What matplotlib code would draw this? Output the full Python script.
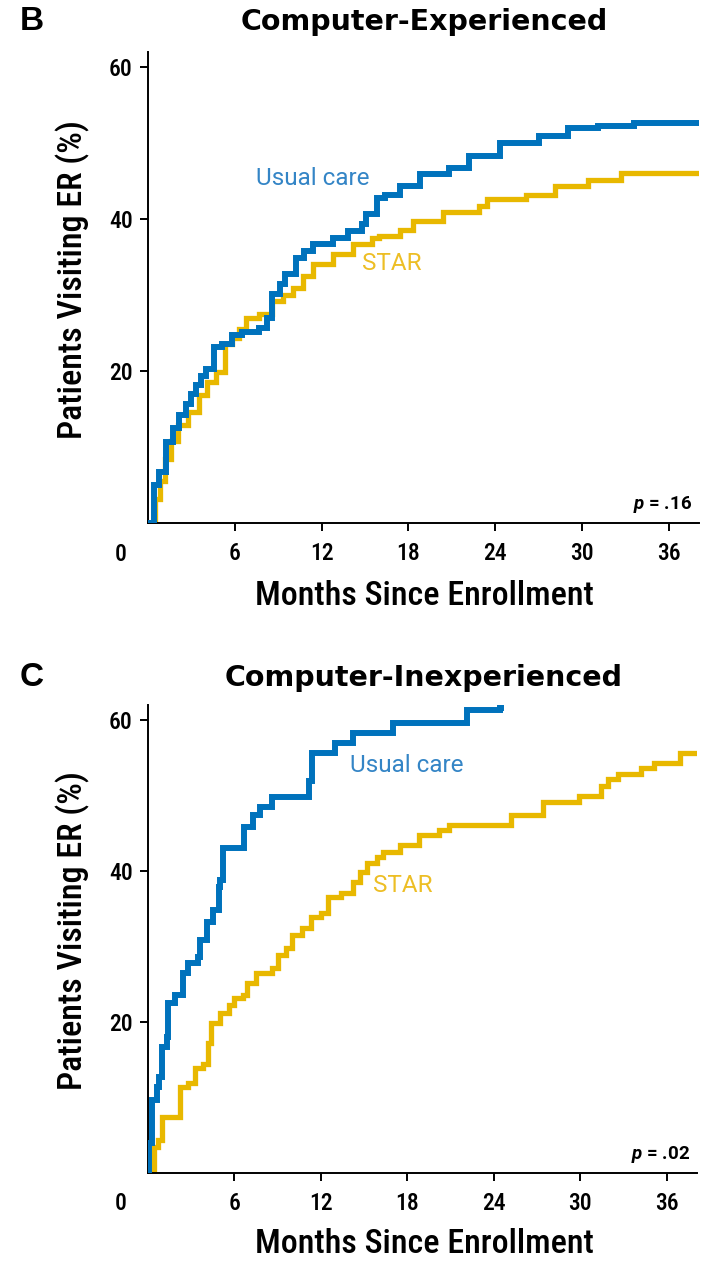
import matplotlib
matplotlib.use("Agg")
import matplotlib.pyplot as plt
from matplotlib import font_manager

# ---------------- data ----------------
b_usual_t = [0, 0.4, 0.8, 1.25, 1.7, 2.15, 2.6, 3.0, 3.3, 3.7, 4.0, 4.6, 5.1, 5.8, 6.5, 7.7, 8.2, 8.6,
             9.1, 9.5, 10.2, 10.8, 11.4, 12.8, 13.8, 14.8, 15.1, 15.8, 16.4, 17.4, 18.8, 20.8, 22.2,
             24.3, 27.0, 29.0, 31.1, 33.6, 38.2]
b_usual_y = [0, 5, 6.7, 10.7, 12.5, 14.2, 15.6, 17, 18.2, 19.3, 20.3, 23.2, 23.5, 24.8, 25.2, 25.6, 27,
             30.1, 31.5, 32.8, 34.9, 35.8, 36.7, 37.5, 38.4, 39.4, 40.7, 42.8, 43.2, 44.3, 45.9, 46.7,
             48.3, 50, 51, 52, 52.2, 52.6, 52.6]

b_star_t = [0, 0.5, 0.85, 1.2, 1.6, 2.1, 2.8, 3.5, 4.1, 4.7, 5.3, 5.8, 6.3, 6.8, 7.7, 8.6, 9.3, 10.0,
            10.7, 11.4, 12.8, 14.2, 15.5, 16.0, 17.4, 18.3, 20.4, 22.9, 23.4, 26.1, 28.1, 30.4, 32.7, 38.2]
b_star_y = [0, 3.1, 5.5, 8.4, 10.8, 12.9, 14.6, 16.9, 18.5, 19.9, 23.5, 24.3, 25.5, 27, 27.5, 29.2,
            30.0, 30.9, 32.5, 34.1, 35.4, 36.7, 37.5, 37.8, 38.5, 39.8, 40.9, 41.7, 42.6, 43.2, 44.3,
            45.2, 46, 46]

c_usual_t = [0, 0.1, 0.3, 0.6, 0.8, 1.0, 1.3, 1.4, 1.9, 2.4, 2.8, 3.5, 3.6, 4.1, 4.5, 4.9, 5.0, 5.2,
             6.7, 7.3, 7.8, 8.6, 11.2, 11.4, 13.0, 14.2, 17.0, 22.1, 24.4, 24.5]
c_usual_y = [0, 4, 9.7, 11.4, 12.7, 16.7, 18, 22.5, 23.6, 26.5, 27.8, 28.6, 30.9, 33.3, 34.8, 37.9,
             38.8, 43, 45.8, 47.4, 48.5, 49.8, 52, 55.6, 57, 58.3, 59.6, 61.3, 61.6, 62.2]

c_star_t = [0, 0.4, 0.7, 1.0, 2.2, 2.8, 3.3, 3.8, 4.2, 4.4, 5.0, 5.6, 6.0, 6.6, 6.9, 7.5, 8.6, 9.0,
            9.6, 10.0, 10.7, 11.3, 12.0, 12.5, 13.4, 14.2, 14.7, 15.2, 15.9, 16.3, 17.5, 18.8, 20.2,
            20.9, 25.2, 27.4, 29.9, 31.4, 31.9, 32.6, 34.2, 35.1, 36.9, 38.0]
c_star_y = [0, 3.5, 4.4, 7.4, 11.4, 11.9, 13.9, 14.5, 17.2, 19.9, 21.2, 22.3, 23.2, 23.6, 25.2, 26.5,
            27.2, 28.9, 29.8, 31.5, 32.5, 33.9, 34.4, 36.6, 37.1, 38.5, 39.9, 41.1, 41.9, 42.5, 43.4,
            44.8, 45.4, 46.1, 47.4, 49.1, 49.9, 51.3, 52.2, 52.8, 53.6, 54.3, 55.6, 55.6]

x_ticks = [6, 12, 18, 24, 30, 36]
y_ticks = [20, 40, 60]
panel_letters = ["B", "C"]
panel_titles = ["Computer-Experienced", "Computer-Inexperienced"]
p_values = [".16", ".02"]
series_names = ["Usual care", "STAR"]
x_label = "Months Since Enrollment"
y_label = "Patients Visiting ER (%)"

# ---------------- style ----------------
available = {f.name for f in font_manager.fontManager.ttflist}
cond = "Roboto Condensed" if "Roboto Condensed" in available else "DejaVu Sans"
reg = "Roboto" if "Roboto" in available else "DejaVu Sans"
plt.rcParams["font.family"] = [cond, "DejaVu Sans"]
plt.rcParams["mathtext.fontset"] = "custom"
plt.rcParams["mathtext.it"] = reg + ":italic:bold"
plt.rcParams["mathtext.rm"] = reg + ":bold"

label_fam = [reg, "DejaVu Sans"]
letter_fam = ["Liberation Sans", "DejaVu Sans"]
title_fam = ["DejaVu Sans"]

BLUE = "#0072BC"
GOLD = "#E8B800"
BLUE_T = "#3485C6"
GOLD_T = "#EDBE25"

W, H = 718, 1261
fig = plt.figure(figsize=(W / 100, H / 100), dpi=100)

axB = fig.add_axes([0.206, 0.5853, 0.768, 0.3735])
axC = fig.add_axes([0.206, 0.0698, 0.765, 0.3711])

panels = [
    (axB, b_usual_t, b_usual_y, b_star_t, b_star_y, (7.5, 45.4), (14.8, 34.2), 605, 280, 22),
    (axC, c_usual_t, c_usual_y, c_star_t, c_star_y, (14.0, 54.0), (15.6, 38.1), 1253, 931, 678),
]

for i, (ax, ut, uy, st, sy, upos, spos, xl_base, yl_center, title_y) in enumerate(panels):
    ax.plot(st, sy, drawstyle="steps-post", color=GOLD, lw=3.8, solid_joinstyle="miter", zorder=2)
    ax.plot(ut, uy, drawstyle="steps-post", color=BLUE, lw=4.3, solid_joinstyle="miter", zorder=3)
    ax.set_xlim(0, 38.1)
    ax.set_ylim(0, 62)
    ax.set_xticks(x_ticks)
    ax.set_yticks(y_ticks)
    for s in ["top", "right"]:
        ax.spines[s].set_visible(False)
    for s in ["left", "bottom"]:
        ax.spines[s].set_linewidth(1.4)
    ax.tick_params(axis="both", length=6, width=1.4, labelsize=17, colors="black")
    ax.tick_params(axis="x", pad=8)
    ax.tick_params(axis="y", pad=5)
    for lab in ax.get_xticklabels() + ax.get_yticklabels():
        lab.set_fontweight("medium")
    ax.text(-1.9, -0.066, "0", transform=ax.get_xaxis_transform(), ha="center", va="center",
            fontsize=17, fontweight="medium")
    ax.text(upos[0], upos[1], series_names[0], color=BLUE_T, fontsize=17.5,
            family=label_fam, ha="left", va="center")
    ax.text(spos[0], spos[1], series_names[1], color=GOLD_T, fontsize=17.5,
            family=label_fam, ha="left", va="center")
    ax.text(37.6, 2.4, r"$\it{p}$ = " + p_values[i], fontsize=13.5, fontweight="bold",
            family=label_fam, ha="right", va="center")

    # axis titles
    fig.text(424 / W, 1 - xl_base / H, x_label, fontsize=24.5, fontweight="medium",
             ha="center", va="baseline")
    fig.text(73 / W, 1 - yl_center / H, y_label, fontsize=24.5, fontweight="medium",
             rotation=90, ha="center", va="center")

    # panel letter and title
    fig.text(20 / W, 1 - title_y / H, panel_letters[i], fontsize=24, fontweight="bold",
             family=letter_fam, va="center", ha="left")
    fig.text(424 / W, 1 - title_y / H, panel_titles[i], fontsize=20.5, fontweight="bold",
             family=title_fam, va="center", ha="center")

fig.savefig("out.png", dpi=100)
